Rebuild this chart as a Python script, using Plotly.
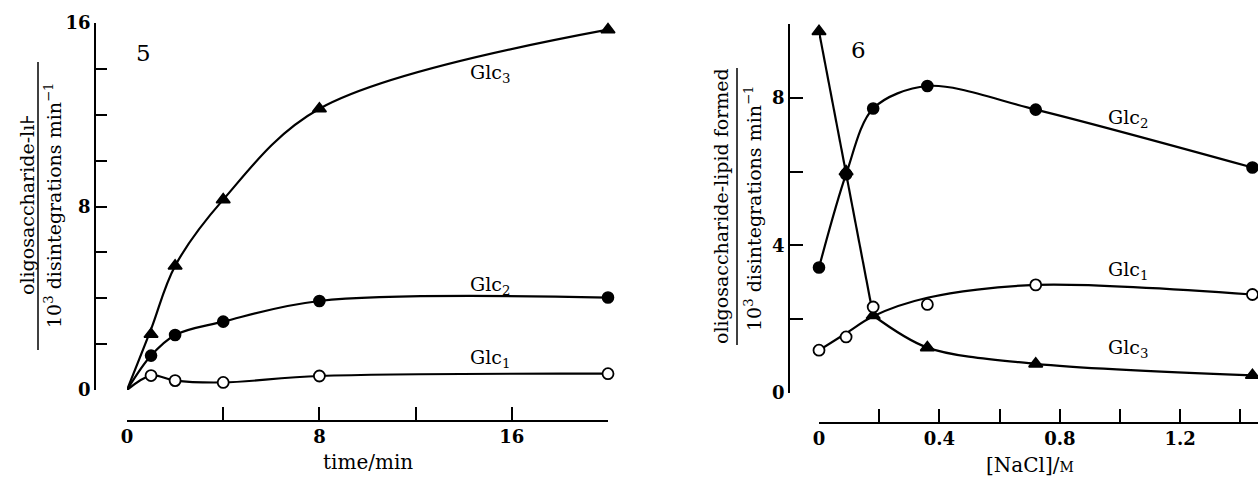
import plotly.graph_objects as go

W, H = 1258, 479

# ---------------- Data ----------------
# Panel 5: time course
time_min = [0, 1, 2, 4, 8, 20]
p5_glc3 = [0, 2.43, 5.41, 8.30, 12.26, 15.71]
p5_glc3_curve = [0, 2.65, 5.41, 8.30, 12.26, 15.71]   # drawn smooth curve
p5_glc2 = [0, 1.50, 2.40, 2.98, 3.88, 4.03]
p5_glc1 = [0, 0.63, 0.41, 0.33, 0.61, 0.71]

# Panel 6: NaCl dependence
nacl_M = [0, 0.09, 0.18, 0.36, 0.72, 1.44]
p6_glc2 = [3.40, 5.93, 7.71, 8.32, 7.68, 6.11]
p6_glc1 = [1.16, 1.52, 2.33, 2.40, 2.93, 2.67]
p6_glc1_curve = [1.16, 1.62, 2.08, 2.58, 2.93, 2.67]   # drawn fitted curve
p6_glc3 = [9.80, 6.00, 2.10, 1.23, 0.79, 0.48]

# tick labels
p5_xticks = [0, 4, 8, 12, 16, 20]
p5_xlabels = ["0", "", "8", "", "16", ""]
p5_yticks = [0, 2, 4, 6, 8, 10, 12, 14, 16]
p5_ylabels = ["0", "", "", "", "8", "", "", "", "16"]
p6_xticks = [0, 0.2, 0.4, 0.6, 0.8, 1.0, 1.2, 1.4]
p6_xlabels = ["0", "", "0.4", "", "0.8", "", "1.2", ""]
p6_yticks = [0, 2, 4, 6, 8, 10]
p6_ylabels = ["0", "", "4", "", "8", ""]

FONT = "DejaVu Serif"
LW = 2.2
MS = 10


def px(x):
    return x / W


def py(y):
    return 1 - y / H


fig = go.Figure()


def curve(x, y, xa, ya, shape="spline", smoothing=1.0):
    fig.add_trace(go.Scatter(x=x, y=y, mode="lines", xaxis=xa, yaxis=ya,
                             line=dict(color="black", width=LW, shape=shape,
                                       smoothing=smoothing),
                             hoverinfo="skip", showlegend=False))


def marks(x, y, xa, ya, symbol, size=MS):
    fig.add_trace(go.Scatter(x=x, y=y, mode="markers", xaxis=xa, yaxis=ya,
                             cliponaxis=False,
                             marker=dict(symbol=symbol, size=size, color="black",
                                         line=dict(color="black", width=1.6)),
                             showlegend=False))


def open_marks(x, y, xa, ya, size=MS + 1):
    fig.add_trace(go.Scatter(x=x, y=y, mode="markers", xaxis=xa, yaxis=ya,
                             cliponaxis=False,
                             marker=dict(symbol="circle", size=size, color="white",
                                         line=dict(color="black", width=1.8)),
                             showlegend=False))


# Panel 5 curves
curve(time_min, p5_glc3_curve, "x", "y")
curve(time_min, p5_glc2, "x", "y")
curve(time_min, p5_glc1, "x", "y")
marks(time_min[1:], p5_glc3[1:], "x", "y", "triangle-up", 12)
marks(time_min[1:], p5_glc2[1:], "x", "y", "circle", 11)
open_marks(time_min[1:], p5_glc1[1:], "x", "y")

# Panel 6 curves
curve(nacl_M, p6_glc2, "x2", "y2", smoothing=0.9)
curve(nacl_M, p6_glc1_curve, "x2", "y2", smoothing=0.9)
curve(nacl_M[:3], p6_glc3[:3], "x2", "y2", shape="linear")
curve(nacl_M[2:], p6_glc3[2:], "x2", "y2", smoothing=0.9)
marks(nacl_M, p6_glc3, "x2", "y2", "triangle-up", 12)
marks(nacl_M, p6_glc2, "x2", "y2", "circle", 11)
open_marks(nacl_M, p6_glc1, "x2", "y2")

axis_common = dict(showline=True, linecolor="black", linewidth=1.5,
                   ticks="inside", tickcolor="black", tickwidth=1.5,
                   showgrid=False, zeroline=False, anchor="free",
                   automargin=False, fixedrange=True,
                   tickfont=dict(family=FONT, size=18, color="black",
                                 weight="bold"))

fig.update_layout(
    width=W, height=H,
    margin=dict(l=0, r=0, t=0, b=0),
    paper_bgcolor="white", plot_bgcolor="white",
    showlegend=False,
    xaxis=dict(domain=[px(127), px(608)], range=[0, 20], position=py(421),
               tickvals=p5_xticks, ticktext=p5_xlabels, ticklen=13,
               **axis_common),
    yaxis=dict(domain=[py(390), py(23)], range=[0, 16], position=px(95),
               tickvals=p5_yticks, ticktext=p5_ylabels, ticklen=11,
               **axis_common),
    xaxis2=dict(domain=[px(819), 1.0], range=[0, (W - 819) / 301.0],
                position=py(423),
                tickvals=p6_xticks, ticktext=p6_xlabels, ticklen=13,
                **axis_common),
    yaxis2=dict(domain=[py(393), py(24)], range=[0, 10], position=px(789),
                tickvals=p6_yticks, ticktext=p6_ylabels, ticklen=13,
                **axis_common),
)


def note(text, x, y, size=19, angle=0):
    fig.add_annotation(text=text, x=px(x), y=py(y), xref="paper", yref="paper",
                       showarrow=False, xanchor="center", yanchor="middle",
                       textangle=angle,
                       font=dict(family=FONT, size=size, color="black"))


# Panel numbers
note("5", 143, 53, size=23)
note("6", 858, 50, size=23)

# Curve labels
note("Glc<sub>3</sub>", 490, 73)
note("Glc<sub>2</sub>", 490, 285)
note("Glc<sub>1</sub>", 490, 358)
note("Glc<sub>2</sub>", 1128, 118)
note("Glc<sub>1</sub>", 1128, 270)
note("Glc<sub>3</sub>", 1128, 348)

# Axis titles
note("time/min", 368, 462, size=20)
note("[NaCl]/<span style='font-size:14px'>M</span>", 1030, 465, size=20)

note("oligosaccharide-lı⊦", 27, 205, angle=-90)
note("10<sup>3</sup> disintegrations min<sup>−1</sup>", 53, 205, angle=-90)
fig.add_shape(type="line", xref="paper", yref="paper",
              x0=px(38), x1=px(38), y0=py(62), y1=py(350),
              line=dict(color="black", width=1.5))

note("oligosaccharide-lipid formed", 721, 206, angle=-90)
note("10<sup>3</sup> disintegrations min<sup>−1</sup>", 753, 208, angle=-90)
fig.add_shape(type="line", xref="paper", yref="paper",
              x0=px(737), x1=px(737), y0=py(68), y1=py(345),
              line=dict(color="black", width=1.5))

fig.write_html("out.html",
               config={"displayModeBar": False},
               post_script="document.body.style.margin='0px';"
                           "document.body.style.overflow='hidden';")
